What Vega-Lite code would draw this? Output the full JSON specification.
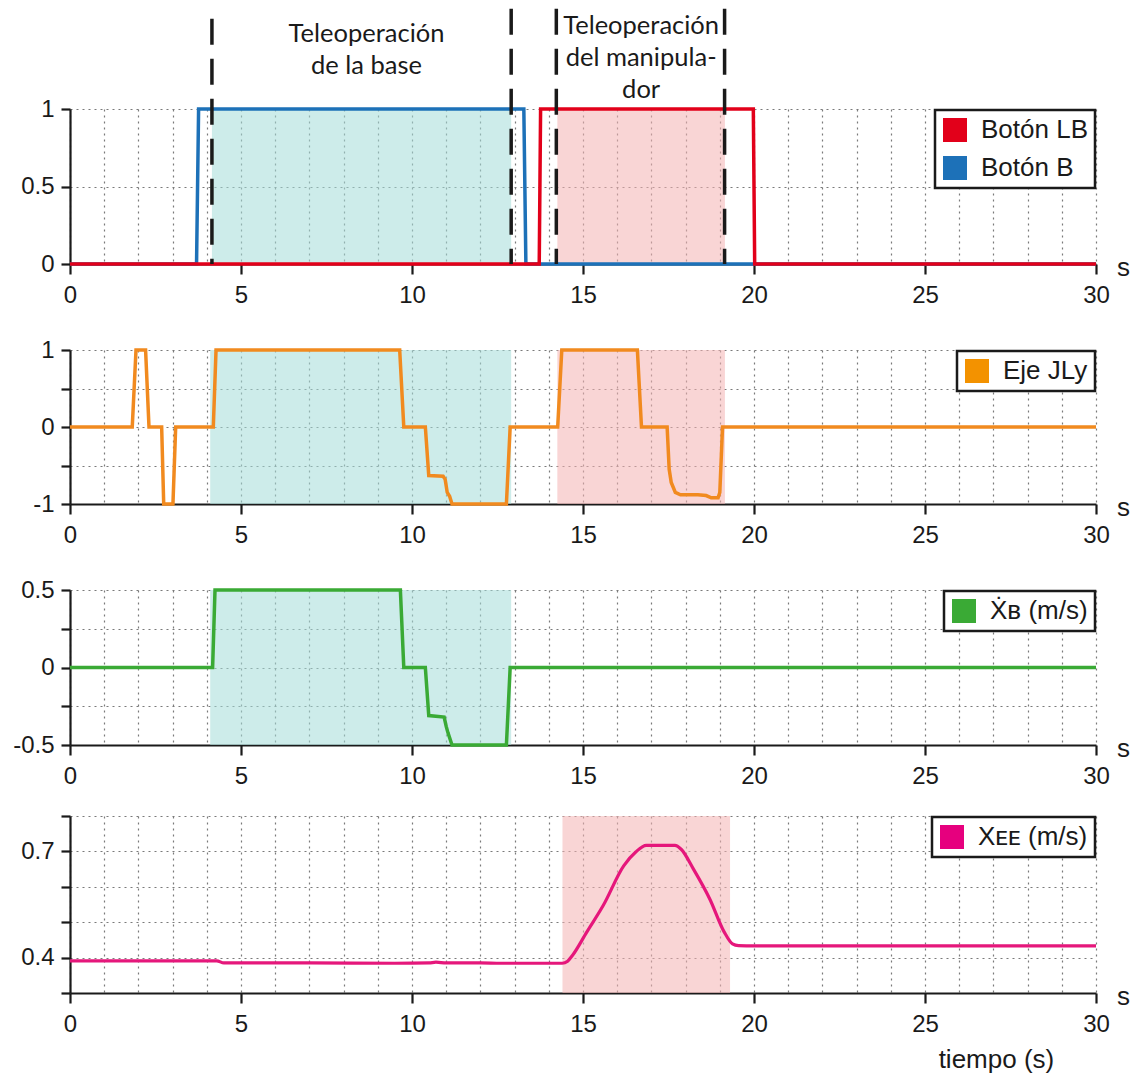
{
  "$schema": "https://vega.github.io/schema/vega-lite/v6.json",
  "padding": {"left": 12, "top": 6, "right": 5, "bottom": 5},
  "background": "white",
  "config": {
    "font": "Liberation Sans",
    "view": {"stroke": null},
    "axis": {
      "domainColor": "#1a1a1a", "domainWidth": 2.2,
      "tickColor": "#1a1a1a", "tickWidth": 2.2,
      "labelFont": "Liberation Sans", "labelFontSize": 24, "labelColor": "#1a1a1a",
      "gridColor": "#7a7a7a", "gridDash": [2, 4], "gridWidth": 1.2, "gridOpacity": 1,
      "titleFont": "Liberation Sans", "titleFontSize": 26, "titleFontWeight": "normal", "titleColor": "#1a1a1a",
      "labelOverlap": false, "labelFlush": false
    },
    "legend": {
      "orient": "top-right", "offset": 1, "padding": 7,
      "strokeColor": "#1a1a1a", "strokeWidth": 2.5, "fillColor": "white",
      "labelFont": "Liberation Sans", "labelFontSize": 26, "labelColor": "#1a1a1a", "labelOffset": 13, "labelLimit": 400,
      "symbolType": "square", "symbolSize": 576, "symbolStrokeWidth": 0, "symbolOpacity": 1, "rowPadding": 12
    },
    "title": {"font": "Liberation Sans", "fontSize": 26, "fontWeight": "normal", "color": "#1a1a1a"}
  },
  "datasets": {
    "btn": [
      {"t": 0, "v": 0, "serie": "Botón B"}, {"t": 3.7, "v": 0, "serie": "Botón B"}, {"t": 3.76, "v": 1, "serie": "Botón B"},
      {"t": 13.27, "v": 1, "serie": "Botón B"}, {"t": 13.33, "v": 0, "serie": "Botón B"}, {"t": 30, "v": 0, "serie": "Botón B"},
      {"t": 0, "v": 0, "serie": "Botón LB"}, {"t": 13.72, "v": 0, "serie": "Botón LB"}, {"t": 13.76, "v": 1, "serie": "Botón LB"},
      {"t": 19.98, "v": 1, "serie": "Botón LB"}, {"t": 20.02, "v": 0, "serie": "Botón LB"}, {"t": 30, "v": 0, "serie": "Botón LB"}
    ],
    "jly": [
      {"t": 0, "v": 0}, {"t": 1.82, "v": 0}, {"t": 1.93, "v": 1}, {"t": 2.21, "v": 1}, {"t": 2.31, "v": 0},
      {"t": 2.68, "v": 0}, {"t": 2.74, "v": -1}, {"t": 3.01, "v": -1}, {"t": 3.09, "v": 0}, {"t": 4.19, "v": 0},
      {"t": 4.27, "v": 1}, {"t": 9.64, "v": 1}, {"t": 9.76, "v": 0}, {"t": 10.39, "v": 0}, {"t": 10.49, "v": -0.63},
      {"t": 10.91, "v": -0.64}, {"t": 10.97, "v": -0.68}, {"t": 11.03, "v": -0.85}, {"t": 11.1, "v": -0.9}, {"t": 11.17, "v": -1},
      {"t": 12.76, "v": -1}, {"t": 12.87, "v": 0}, {"t": 14.26, "v": 0}, {"t": 14.38, "v": 1}, {"t": 16.59, "v": 1},
      {"t": 16.71, "v": 0}, {"t": 17.46, "v": 0}, {"t": 17.52, "v": -0.55}, {"t": 17.58, "v": -0.72}, {"t": 17.7, "v": -0.85},
      {"t": 17.85, "v": -0.88}, {"t": 18.36, "v": -0.88}, {"t": 18.6, "v": -0.89}, {"t": 18.75, "v": -0.92}, {"t": 18.95, "v": -0.92},
      {"t": 19.0, "v": -0.85}, {"t": 19.08, "v": 0}, {"t": 30, "v": 0}
    ],
    "xb": [
      {"t": 0, "v": 0}, {"t": 4.17, "v": 0}, {"t": 4.24, "v": 0.5}, {"t": 9.66, "v": 0.5}, {"t": 9.76, "v": 0},
      {"t": 10.39, "v": 0}, {"t": 10.49, "v": -0.31}, {"t": 10.94, "v": -0.32}, {"t": 11.0, "v": -0.38}, {"t": 11.05, "v": -0.42},
      {"t": 11.17, "v": -0.5}, {"t": 12.76, "v": -0.5}, {"t": 12.87, "v": 0}, {"t": 30, "v": 0}
    ],
    "xee": [
      {"t": 0, "v": 0.391}, {"t": 4.29, "v": 0.391}, {"t": 4.5, "v": 0.385}, {"t": 7, "v": 0.385}, {"t": 9.5, "v": 0.384},
      {"t": 10.5, "v": 0.385}, {"t": 10.7, "v": 0.387}, {"t": 11, "v": 0.385}, {"t": 12, "v": 0.385}, {"t": 12.6, "v": 0.384},
      {"t": 14.39, "v": 0.384}, {"t": 14.55, "v": 0.39}, {"t": 14.69, "v": 0.406}, {"t": 15.11, "v": 0.472}, {"t": 15.59, "v": 0.547},
      {"t": 16.19, "v": 0.659}, {"t": 16.55, "v": 0.699}, {"t": 16.85, "v": 0.717}, {"t": 17.69, "v": 0.717}, {"t": 17.87, "v": 0.706},
      {"t": 18.23, "v": 0.65}, {"t": 18.71, "v": 0.565}, {"t": 19.13, "v": 0.472}, {"t": 19.37, "v": 0.439}, {"t": 19.55, "v": 0.434},
      {"t": 20, "v": 0.433}, {"t": 30, "v": 0.433}
    ],
    "bands": [
      {"panel": 1, "t": 4.15, "t2": 12.9, "kind": "base"}, {"panel": 1, "t": 14.25, "t2": 19.15, "kind": "manip"},
      {"panel": 2, "t": 4.1, "t2": 12.9, "kind": "base"}, {"panel": 2, "t": 14.25, "t2": 19.15, "kind": "manip"},
      {"panel": 3, "t": 4.1, "t2": 12.9, "kind": "base"},
      {"panel": 4, "t": 14.4, "t2": 19.3, "kind": "manip"}
    ],
    "guides": [
      {"t": 4.15, "v": 1.583}, {"t": 12.9, "v": 1.647}, {"t": 14.22, "v": 1.647}, {"t": 19.14, "v": 1.647}
    ],
    "notes": [
      {"t": 8.67, "v": 1.486, "text": "Teleoperación"}, {"t": 8.67, "v": 1.279, "text": "de la base"},
      {"t": 16.7, "v": 1.537, "text": "Teleoperación"}, {"t": 16.7, "v": 1.331, "text": "del manipula-"}, {"t": 16.7, "v": 1.124, "text": "dor"}
    ],
    "legend": [
      {"panel": 1, "serie": "Botón LB"}, {"panel": 1, "serie": "Botón B"},
      {"panel": 2, "serie": "Eje JLy"}, {"panel": 3, "serie": "Ẋʙ (m/s)"}, {"panel": 4, "serie": "Xᴇᴇ (m/s)"}
    ]
  },
  "resolve": {"scale": {"fill": "independent"}, "legend": {"fill": "independent"}},
  "vconcat": [
    {
      "spacing": 31,
      "resolve": {"scale": {"fill": "independent"}, "legend": {"fill": "independent"}},
      "vconcat": [
        {
          "width": 1026, "height": 155,
          "encoding": {"x": {"field": "t", "type": "quantitative", "scale": {"domain": [0, 30], "nice": false, "zero": false},
            "axis": {"values": [0,1,2,3,4,5,6,7,8,9,10,11,12,13,14,15,16,17,18,19,20,21,22,23,24,25,26,27,28,29,30],
              "labelExpr": "datum.value % 5 === 0 ? '' + datum.value : ''",
              "tickOpacity": {"condition": {"test": "datum.value % 5 === 0", "value": 1}, "value": 0},
              "tickSize": 10, "labelPadding": 9, "grid": true,
              "title": "s", "titleX": 1053, "titleY": 11, "titleAlign": "center", "titleBaseline": "alphabetic"}}},
          "layer": [
            {"data": {"name": "bands"}, "transform": [{"filter": "datum.panel == 1"}],
             "mark": {"type": "rect", "opacity": 0.55},
             "encoding": {"x2": {"field": "t2"}, "color": {"field": "kind", "type": "nominal", "scale": {"domain": ["base", "manip"], "range": ["#a4dcd9", "#f4b3b3"]}, "legend": null}}},
            {"data": {"name": "btn"}, "transform": [{"filter": "datum.serie == 'Botón B'"}],
             "mark": {"type": "line", "strokeWidth": 3.5, "stroke": "#1d71b8"},
             "encoding": {"y": {"field": "v", "type": "quantitative", "scale": {"domain": [0, 1], "nice": false},
                "axis": {"values": [0, 0.25, 0.5, 0.75, 1], "labelExpr": "datum.value % 0.5 === 0 ? '' + datum.value : ''", "title": null, "tickSize": 9, "labelPadding": 7, "grid": true}}}},
            {"data": {"name": "btn"}, "transform": [{"filter": "datum.serie == 'Botón LB'"}],
             "mark": {"type": "line", "strokeWidth": 3.5, "stroke": "#e2001a"},
             "encoding": {"y": {"field": "v", "type": "quantitative", "scale": {"domain": [0, 1], "nice": false}}}},
            {"data": {"name": "guides"},
             "mark": {"type": "rule", "strokeWidth": 3.5, "strokeDash": [26, 14], "color": "#1a1a1a"},
             "encoding": {"y": {"field": "v", "type": "quantitative", "scale": {"domain": [0, 1], "nice": false}}, "y2": {"datum": 0}}},
            {"data": {"name": "notes"},
             "mark": {"type": "text", "font": "Lato", "fontSize": 25.5, "color": "#1a1a1a", "baseline": "middle", "align": "center"},
             "encoding": {"y": {"field": "v", "type": "quantitative", "scale": {"domain": [0, 1], "nice": false}}, "text": {"field": "text"}}},
            {"data": {"name": "legend"}, "transform": [{"filter": "datum.panel == 1"}],
             "mark": {"type": "square", "opacity": 0},
             "encoding": {"fill": {"field": "serie", "type": "nominal", "scale": {"domain": ["Botón LB", "Botón B"], "range": ["#e2001a", "#1d71b8"]}, "legend": {"title": null, "symbolOpacity": 1}}}}
          ]
        },
        {
          "width": 1026, "height": 154,
          "encoding": {"x": {"field": "t", "type": "quantitative", "scale": {"domain": [0, 30], "nice": false, "zero": false},
            "axis": {"values": [0,1,2,3,4,5,6,7,8,9,10,11,12,13,14,15,16,17,18,19,20,21,22,23,24,25,26,27,28,29,30],
              "labelExpr": "datum.value % 5 === 0 ? '' + datum.value : ''",
              "tickOpacity": {"condition": {"test": "datum.value % 5 === 0", "value": 1}, "value": 0},
              "tickSize": 10, "labelPadding": 9, "grid": true,
              "title": "s", "titleX": 1053, "titleY": 11, "titleAlign": "center", "titleBaseline": "alphabetic"}}},
          "layer": [
            {"data": {"name": "bands"}, "transform": [{"filter": "datum.panel == 2"}],
             "mark": {"type": "rect", "opacity": 0.55},
             "encoding": {"x2": {"field": "t2"}, "color": {"field": "kind", "type": "nominal", "scale": {"domain": ["base", "manip"], "range": ["#a4dcd9", "#f4b3b3"]}, "legend": null}}},
            {"data": {"name": "jly"},
             "mark": {"type": "line", "strokeWidth": 3.5, "stroke": "#f18a1f"},
             "encoding": {"y": {"field": "v", "type": "quantitative", "scale": {"domain": [-1, 1], "nice": false},
                "axis": {"values": [-1, -0.5, 0, 0.5, 1], "labelExpr": "datum.value % 1 === 0 ? '' + datum.value : ''", "title": null, "tickSize": 9, "labelPadding": 7, "grid": true}}}},
            {"data": {"name": "legend"}, "transform": [{"filter": "datum.panel == 2"}],
             "mark": {"type": "square", "opacity": 0},
             "encoding": {"fill": {"field": "serie", "type": "nominal", "scale": {"domain": ["Eje JLy"], "range": ["#f39200"]}, "legend": {"title": null, "symbolOpacity": 1}}}}
          ]
        },
        {
          "width": 1026, "height": 155,
          "encoding": {"x": {"field": "t", "type": "quantitative", "scale": {"domain": [0, 30], "nice": false, "zero": false},
            "axis": {"values": [0,1,2,3,4,5,6,7,8,9,10,11,12,13,14,15,16,17,18,19,20,21,22,23,24,25,26,27,28,29,30],
              "labelExpr": "datum.value % 5 === 0 ? '' + datum.value : ''",
              "tickOpacity": {"condition": {"test": "datum.value % 5 === 0", "value": 1}, "value": 0},
              "tickSize": 10, "labelPadding": 9, "grid": true,
              "title": "s", "titleX": 1053, "titleY": 11, "titleAlign": "center", "titleBaseline": "alphabetic"}}},
          "layer": [
            {"data": {"name": "bands"}, "transform": [{"filter": "datum.panel == 3"}],
             "mark": {"type": "rect", "opacity": 0.55},
             "encoding": {"x2": {"field": "t2"}, "color": {"field": "kind", "type": "nominal", "scale": {"domain": ["base", "manip"], "range": ["#a4dcd9", "#f4b3b3"]}, "legend": null}}},
            {"data": {"name": "xb"},
             "mark": {"type": "line", "strokeWidth": 3.5, "stroke": "#3aaa35"},
             "encoding": {"y": {"field": "v", "type": "quantitative", "scale": {"domain": [-0.5, 0.5], "nice": false},
                "axis": {"values": [-0.5, -0.25, 0, 0.25, 0.5], "labelExpr": "datum.value % 0.5 === 0 ? '' + datum.value : ''", "title": null, "tickSize": 9, "labelPadding": 7, "grid": true}}}},
            {"data": {"name": "legend"}, "transform": [{"filter": "datum.panel == 3"}],
             "mark": {"type": "square", "opacity": 0},
             "encoding": {"fill": {"field": "serie", "type": "nominal", "scale": {"domain": ["Ẋʙ (m/s)"], "range": ["#3aaa35"]}, "legend": {"title": null, "symbolOpacity": 1}}}}
          ]
        }
      ]
    },
    {
      "width": 1026, "height": 177,
      "title": {"text": "tiempo (s)", "orient": "bottom", "anchor": "start", "dx": 918, "offset": 11},
      "encoding": {"x": {"field": "t", "type": "quantitative", "scale": {"domain": [0, 30], "nice": false, "zero": false},
        "axis": {"values": [0,1,2,3,4,5,6,7,8,9,10,11,12,13,14,15,16,17,18,19,20,21,22,23,24,25,26,27,28,29,30],
          "labelExpr": "datum.value % 5 === 0 ? '' + datum.value : ''",
          "tickOpacity": {"condition": {"test": "datum.value % 5 === 0", "value": 1}, "value": 0},
          "tickSize": 10, "labelPadding": 9, "grid": true,
          "title": "s", "titleX": 1053, "titleY": 11, "titleAlign": "center", "titleBaseline": "alphabetic"}}},
      "layer": [
        {"data": {"name": "bands"}, "transform": [{"filter": "datum.panel == 4"}],
         "mark": {"type": "rect", "opacity": 0.55},
         "encoding": {"x2": {"field": "t2"}, "color": {"field": "kind", "type": "nominal", "scale": {"domain": ["base", "manip"], "range": ["#a4dcd9", "#f4b3b3"]}, "legend": null}}},
        {"data": {"name": "xee"},
         "mark": {"type": "line", "strokeWidth": 3.2, "stroke": "#e5177b", "interpolate": "monotone"},
         "encoding": {"y": {"field": "v", "type": "quantitative", "scale": {"domain": [0.3, 0.8], "nice": false, "zero": false},
            "axis": {"values": [0.3, 0.4, 0.5, 0.6, 0.7, 0.8], "labelExpr": "abs(datum.value - 0.4) < 0.001 || abs(datum.value - 0.7) < 0.001 ? '' + datum.value : ''", "title": null, "tickSize": 9, "labelPadding": 7, "grid": true}}}},
        {"data": {"name": "legend"}, "transform": [{"filter": "datum.panel == 4"}],
         "mark": {"type": "square", "opacity": 0},
         "encoding": {"fill": {"field": "serie", "type": "nominal", "scale": {"domain": ["Xᴇᴇ (m/s)"], "range": ["#e6007e"]}, "legend": {"title": null, "symbolOpacity": 1}}}}
      ]
    }
  ],
  "spacing": 16
}
